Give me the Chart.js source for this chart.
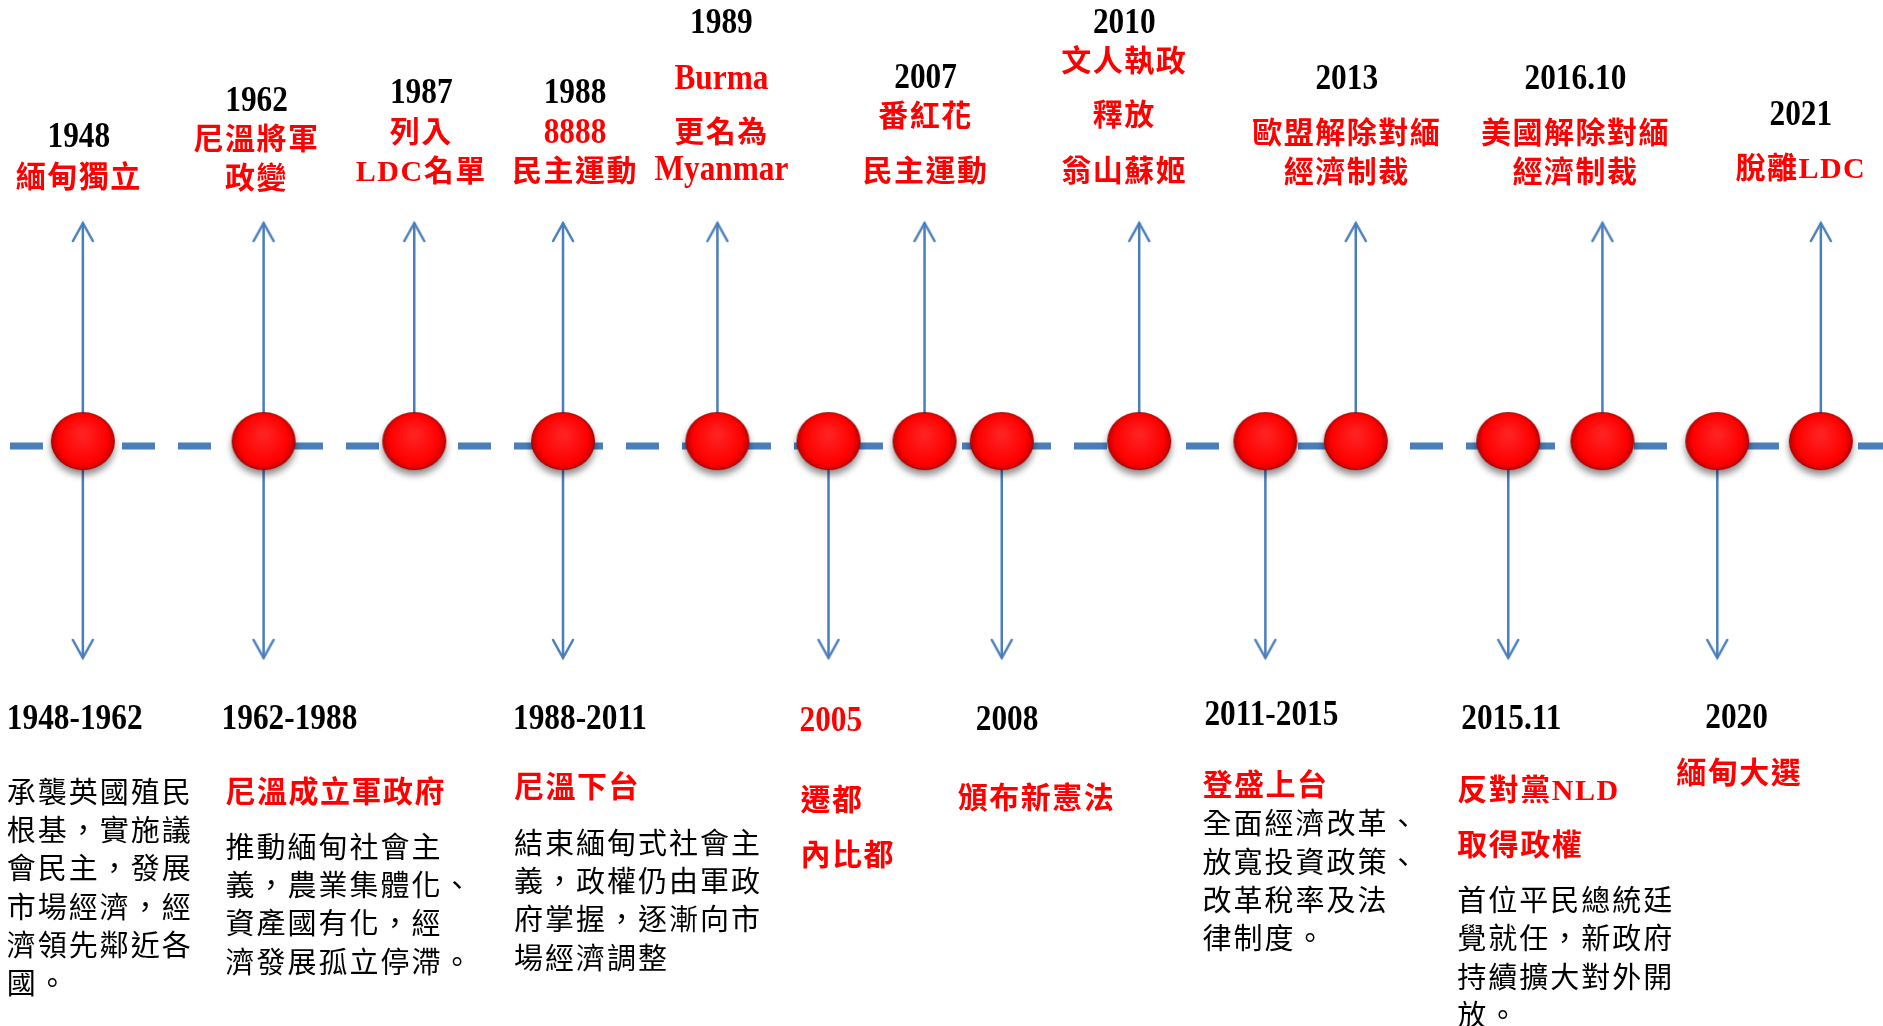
<!DOCTYPE html>
<html>
<head>
<meta charset="utf-8">
<script src="https://cdn.jsdelivr.net/npm/chart.js@4.4.0/dist/chart.umd.min.js"></script>
<style>
  html, body { margin: 0; padding: 0; background: #fff; overflow: hidden; }
  #wrap { width: 1883px; height: 1026px; }
</style>
</head>
<body>
<div id="wrap"><canvas id="timeline"></canvas></div>
<script>
// position of each node along the timeline (0-100)
const nodePos = [4.4, 14.0, 22.0, 29.9, 38.1, 44.0, 49.1, 53.2, 60.5, 67.2, 72.0, 80.1, 85.1, 91.2, 96.7];

// events above the line
const upNodes = [0, 1, 2, 3, 4, 6, 8, 10, 12, 14];
const upYears = ['1948', '1962', '1987', '1988', '1989', '2007', '2010', '2013', '2016.10', '2021'];
const upLines = [
  ['緬甸獨立'],
  ['尼溫將軍', '政變'],
  ['列入', 'LDC名單'],
  ['8888', '民主運動'],
  ['Burma', '更名為', 'Myanmar'],
  ['番紅花', '民主運動'],
  ['文人執政', '釋放', '翁山蘇姬'],
  ['歐盟解除對緬', '經濟制裁'],
  ['美國解除對緬', '經濟制裁'],
  ['脫離LDC']
];

// events below the line
const downNodes = [0, 1, 3, 5, 7, 9, 11, 13];
const downYears = ['1948-1962', '1962-1988', '1988-2011', '2005', '2008', '2011-2015', '2015.11', '2020'];
const downRedYear = [false, false, false, true, false, false, false, false];
const downHeads = [
  [], ['尼溫成立軍政府'], ['尼溫下台'], ['遷都', '內比都'], ['頒布新憲法'],
  ['登盛上台'], ['反對黨NLD', '取得政權'], ['緬甸大選']
];
const downBodies = [
  ['承襲英國殖民', '根基，實施議', '會民主，發展', '市場經濟，經', '濟領先鄰近各', '國。'],
  ['推動緬甸社會主', '義，農業集體化、', '資產國有化，經', '濟發展孤立停滯。'],
  ['結束緬甸式社會主', '義，政權仍由軍政', '府掌握，逐漸向市', '場經濟調整'],
  [], [],
  ['全面經濟改革、', '放寬投資政策、', '改革稅率及法', '律制度。'],
  ['首位平民總統廷', '覺就任，新政府', '持續擴大對外開', '放。'],
  []
];

// text layout (px): offset from node, row centres
const upLayout = [
  { dx: -4, rows: [138, 179] },
  { dx: -7, rows: [102, 141, 180] },
  { dx: 7, rows: [94, 134, 173] },
  { dx: 12, rows: [94, 134, 173] },
  { dx: 4, rows: [24, 80, 134, 171] },
  { dx: 1, rows: [79, 118, 173] },
  { dx: -15, rows: [24, 63, 117, 173] },
  { dx: -9, rows: [80, 135, 174] },
  { dx: -27, rows: [80, 135, 174] },
  { dx: -20, rows: [116, 170] }
];
const downLayout = [
  { dx: -76, yearY: 720, headDx: -76, heads: [], body: [792, 830, 868, 907, 945, 983] },
  { dx: -42, yearY: 720, headDx: -38, heads: [794], body: [847, 885, 923, 962] },
  { dx: -50, yearY: 720, headDx: -49, heads: [789], body: [843, 881, 919, 958] },
  { dx: -29, yearY: 722, headDx: -28, heads: [802, 857], body: [] },
  { dx: -26, yearY: 721, headDx: -44, heads: [800], body: [] },
  { dx: -61, yearY: 716, headDx: -63, heads: [787], body: [823, 862, 900, 938] },
  { dx: -47, yearY: 720, headDx: -51, heads: [792, 847], body: [900, 938, 977, 1015] },
  { dx: -12, yearY: 719, headDx: -41, heads: [775], body: [] }
];

const blue = '#4a7ebb';
const red = '#ff0000';
const yearFont = "bold 36px 'Liberation Serif'";
const redFont = "bold 30px 'Liberation Serif', 'Noto Sans CJK TC'";
const bodyFont = "29px 'Noto Sans CJK TC'";

function makeBall() {
  const c = document.createElement('canvas');
  c.width = 84; c.height = 84;
  const g = c.getContext('2d');
  g.save();
  g.shadowColor = 'rgba(0,0,0,0.45)';
  g.shadowBlur = 7;
  g.shadowOffsetY = 5;
  g.beginPath();
  g.ellipse(42, 37, 32, 29, 0, 0, Math.PI * 2);
  g.fillStyle = '#a00000';
  g.fill();
  g.restore();
  const grad = g.createRadialGradient(42, 30, 4, 42, 37, 33);
  grad.addColorStop(0, '#ff2020');
  grad.addColorStop(0.72, '#ff0000');
  grad.addColorStop(1, '#b00000');
  g.beginPath();
  g.ellipse(42, 37, 31, 28, 0, 0, Math.PI * 2);
  g.fillStyle = grad;
  g.fill();
  return c;
}

function makeHead() {
  // open "V" arrow head, tip at the centre of the image
  const c = document.createElement('canvas');
  c.width = 26; c.height = 44;
  const g = c.getContext('2d');
  g.strokeStyle = blue;
  g.lineWidth = 2.5;
  g.lineCap = 'round';
  g.beginPath();
  g.moveTo(3, 40);
  g.lineTo(13, 22);
  g.lineTo(23, 40);
  g.stroke();
  return c;
}

const ball = makeBall();
const head = makeHead();

function arrowData(nodes, tip) {
  const pts = [];
  nodes.forEach(n => {
    pts.push({ x: nodePos[n], y: 0 }, { x: nodePos[n], y: tip }, { x: nodePos[n], y: null });
  });
  return pts;
}

function put(ctx, text, x, y, align, font, color, sx, spacing) {
  ctx.save();
  ctx.font = font;
  ctx.fillStyle = color;
  ctx.textAlign = align;
  ctx.textBaseline = 'middle';
  ctx.letterSpacing = (spacing || 0) + 'px';
  ctx.translate(x, y);
  ctx.scale(sx, 1);
  ctx.fillText(text, 0, 0);
  ctx.restore();
}

const isLatin = t => /^[A-Za-z0-9 .\-]+$/.test(t);

const labelPlugin = {
  id: 'labels',
  afterDatasetsDraw(chart) {
    const { ctx, scales: { x } } = chart;
    upNodes.forEach((n, i) => {
      const cx = x.getPixelForValue(nodePos[n]) + upLayout[i].dx;
      const rows = upLayout[i].rows;
      put(ctx, upYears[i], cx, rows[0], 'center', yearFont, '#000', 0.87);
      upLines[i].forEach((t, j) => {
        if (isLatin(t)) put(ctx, t, cx, rows[j + 1], 'center', yearFont, red, 0.87);
        else put(ctx, t, cx, rows[j + 1], 'center', redFont, red, 1, 1.5);
      });
    });
    downNodes.forEach((n, i) => {
      const px = x.getPixelForValue(nodePos[n]);
      const lay = downLayout[i];
      put(ctx, downYears[i], px + lay.dx, lay.yearY, 'left', yearFont, downRedYear[i] ? red : '#000', 0.87);
      downHeads[i].forEach((t, j) => put(ctx, t, px + lay.headDx, lay.heads[j], 'left', redFont, red, 1, 1.5));
      downBodies[i].forEach((t, j) => put(ctx, t, px + lay.headDx, lay.body[j], 'left', bodyFont, '#000', 1, 2));
    });
  }
};

new Chart(document.getElementById('timeline'), {
  type: 'scatter',
  data: {
    datasets: [
      {
        label: 'nodes',
        data: nodePos.map(p => ({ x: p, y: 0 })),
        pointStyle: ball,
        pointRadius: 30,
        showLine: false,
        order: 0
      },
      {
        label: 'up',
        data: arrowData(upNodes, 1),
        showLine: true,
        spanGaps: false,
        borderColor: blue,
        borderWidth: 2.5,
        pointStyle: head,
        pointRadius: c => (c.raw && c.raw.y === 1 ? 5 : 0),
        order: 1
      },
      {
        label: 'down',
        data: arrowData(downNodes, -0.95),
        showLine: true,
        spanGaps: false,
        borderColor: blue,
        borderWidth: 2.5,
        pointStyle: head,
        pointRotation: 180,
        pointRadius: c => (c.raw && c.raw.y === -0.95 ? 5 : 0),
        order: 1
      },
      {
        label: 'axis',
        data: [{ x: 0.53, y: 0 }, { x: 100, y: 0 }],
        showLine: true,
        borderColor: blue,
        borderWidth: 7,
        borderDash: [33, 23],
        borderCapStyle: 'butt',
        pointRadius: 0,
        order: 2
      }
    ]
  },
  options: {
    responsive: true,
    maintainAspectRatio: false,
    animation: false,
    events: [],
    layout: { padding: 0, autoPadding: false },
    scales: {
      x: { type: 'linear', min: 0, max: 100, display: false },
      y: { type: 'linear', min: -2.6, max: 2.0, display: false }
    },
    plugins: {
      legend: { display: false },
      tooltip: { enabled: false }
    }
  },
  plugins: [labelPlugin]
});
</script>
</body>
</html>
